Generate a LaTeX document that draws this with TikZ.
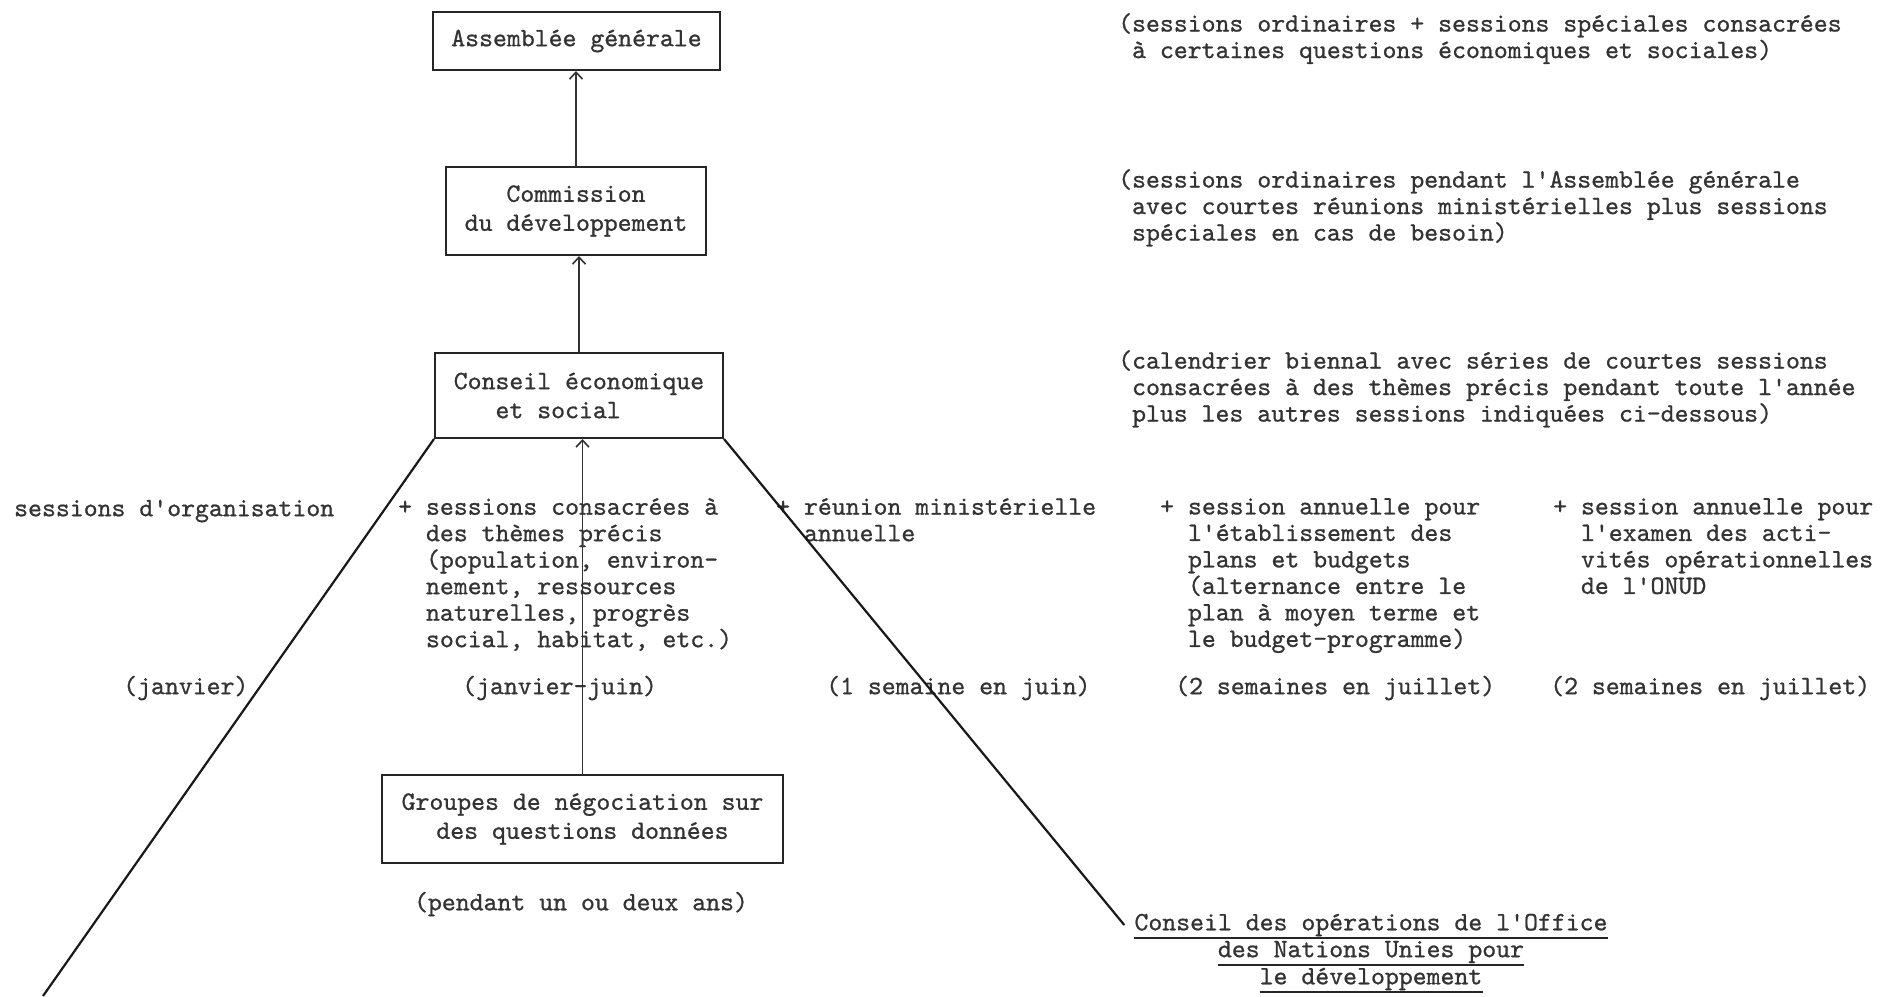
\documentclass[tikz,border=0pt]{standalone}
\usepackage{fontspec}
\usetikzlibrary{arrows.meta}
\newfontfamily\twfont{lmmono10-regular.otf}[FakeBold=0.8]
\newcommand\myind{\hspace*{0.525em}}
\begin{document}
\begin{tikzpicture}[x=1pt,y=-1pt,
  tt/.style={font=\fontsize{26.5}{26.5}\selectfont\twfont,inner sep=0pt,text=black!80,align=left},
  box/.style={tt,font=\fontsize{26.5}{29}\selectfont\twfont,draw=black!85,line width=2pt,align=center},
  arr/.style={draw=black!80,line width=1.6pt,-{Straight Barb[length=7pt,width=13pt]}},
  diag/.style={draw=black!90,line width=2.2pt},
  ul/.style={draw=black!85,line width=2pt}]
\useasboundingbox[fill=white] (0,0) rectangle (1895,996);

% boxes
\node[box,minimum width=287pt,minimum height=58pt] (ag) at (576.5,41) {Assemblée générale};
\node[box,minimum width=260pt,minimum height=88pt] (cd) at (576,211) {Commission\\du développement};
\node[box,minimum width=288pt,minimum height=85pt,align=left] (ces) at (579,395.5) {Conseil économique\\\myind\myind\myind et social};
\node[box,minimum width=401pt,minimum height=88pt] (gn) at (582.5,819) {Groupes de négociation sur\\des questions données};

% arrows
\draw[arr] (cd.north) -- (cd.north |- ag.south);
\draw[arr] (ces.north) -- (ces.north |- cd.south);
\draw[arr] (gn.north) -- (gn.north |- ces.south);

% right-hand comments
\node[tt,anchor=north west] (c1) at (1118,13) {(sessions ordinaires + sessions spéciales consacrées\\\myind à certaines questions économiques et sociales)};
\node[tt,anchor=north west] (c2) at (1118,169) {(sessions ordinaires pendant l'Assemblée générale\\\myind avec courtes réunions ministérielles plus sessions\\\myind spéciales en cas de besoin)};
\node[tt,anchor=north west] (c3) at (1118,350) {(calendrier biennal avec séries de courtes sessions\\\myind consacrées à des thèmes précis pendant toute l'année\\\myind plus les autres sessions indiquées ci-dessous)};

% sessions row
\node[tt,anchor=west] (sorg) at (14,511) {sessions d'organisation};
\node[tt,anchor=north west] (themes) at (398,498) {+ sessions consacrées à\\\myind\myind des thèmes précis\\\myind\myind (population, environ-\\\myind\myind nement, ressources\\\myind\myind naturelles, progrès\\\myind\myind social, habitat, etc.)};
\node[tt,anchor=north west] (reun) at (776,498) {+ réunion ministérielle\\\myind\myind annuelle};
\node[tt,anchor=north west] (plans) at (1160,498) {+ session annuelle pour\\\myind\myind l'établissement des\\\myind\myind plans et budgets\\\myind\myind (alternance entre le\\\myind\myind plan à moyen terme et\\\myind\myind le budget-programme)};
\node[tt,anchor=north west] (onud) at (1553,498) {+ session annuelle pour\\\myind\myind l'examen des acti-\\\myind\myind vités opérationnelles\\\myind\myind de l'ONUD};

% periods
\node[tt,anchor=west] (janv) at (123,688) {(janvier)};
\node[tt,anchor=west] (janvjuin) at (462,688) {(janvier-juin)};
\node[tt,anchor=west] (semjuin) at (826,688) {(1 semaine en juin)};
\node[tt,anchor=west] (semjuila) at (1175,688) {(2 semaines en juillet)};
\node[tt,anchor=west] (semjuilb) at (1550,688) {(2 semaines en juillet)};
\node[tt] (pend) at (581,904) {(pendant un ou deux ans)};

% UNDP council
\node[tt] (cdo1) at (1371,925) {Conseil des opérations de l'Office};
\node[tt] (cdo2) at (1371,952) {des Nations Unies pour};
\node[tt] (cdo3) at (1371,979) {le développement};
\draw[ul] ([yshift=-2pt]cdo1.south west) -- ([yshift=-2pt]cdo1.south east);
\draw[ul] ([yshift=-2pt]cdo2.south west) -- ([yshift=-2pt]cdo2.south east);
\draw[ul] ([yshift=-2pt]cdo3.south west) -- ([yshift=-2pt]cdo3.south east);

% diagonals
\coordinate (lend) at (43,996);
\draw[diag] (ces.south west) -- (lend);
\draw[diag] (ces.south east) -- ([xshift=-10pt]cdo1.west);
\end{tikzpicture}
\end{document}
